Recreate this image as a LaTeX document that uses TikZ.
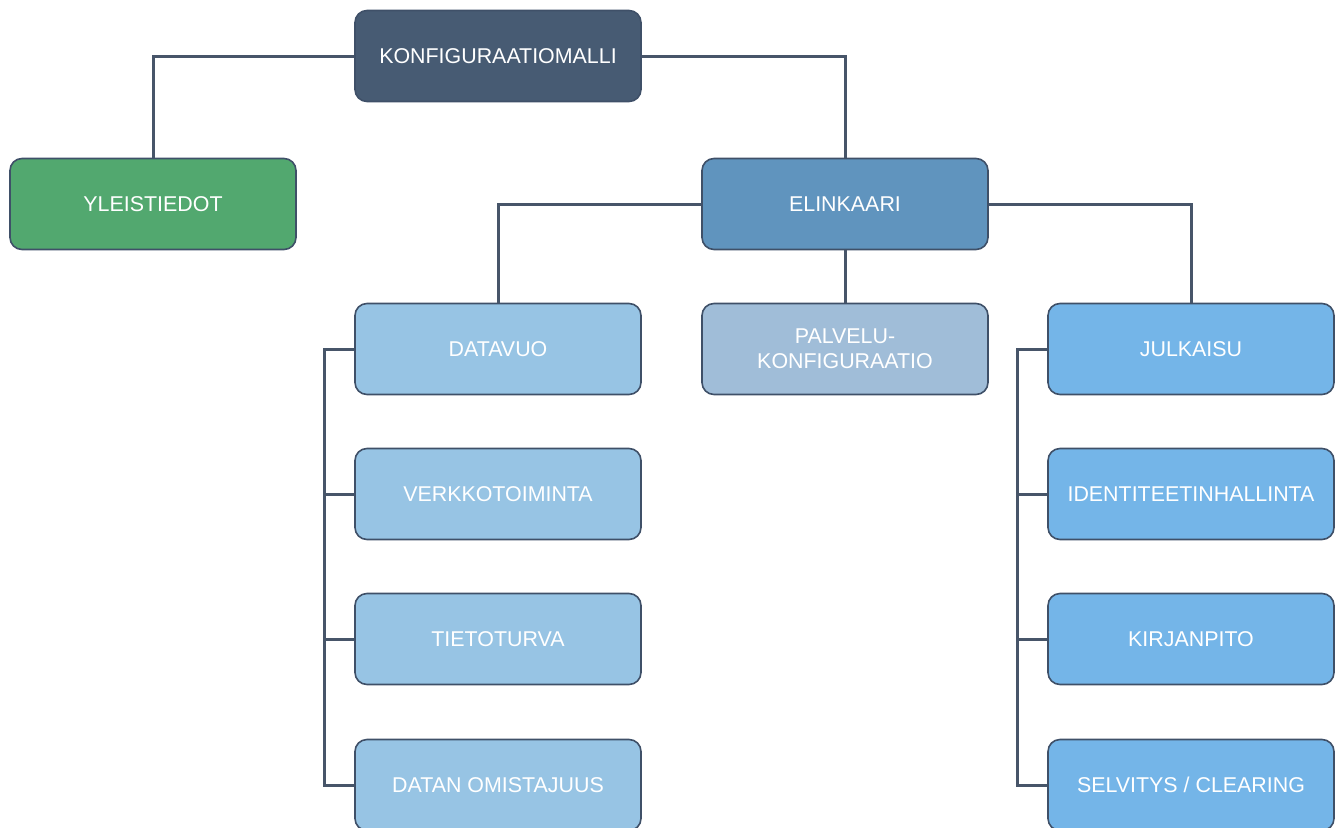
\documentclass[tikz,border=0pt]{standalone}
\usepackage{fontspec}
\setmainfont{Liberation Sans}
\definecolor{rootfill}{HTML}{475B73}
\definecolor{genfill}{HTML}{52A86F}
\definecolor{lifefill}{HTML}{6094BE}
\definecolor{datafill}{HTML}{97C4E4}
\definecolor{svcfill}{HTML}{A0BDD8}
\definecolor{pubfill}{HTML}{74B5E8}
\definecolor{edge}{HTML}{3F5068}
\definecolor{wire}{HTML}{475569}
\tikzset{
  box/.style={draw=edge, line width=1.6pt, rounded corners=12pt,
    minimum width=286pt, minimum height=91pt, inner sep=0pt,
    text=white, font=\fontsize{21.4}{25}\selectfont, align=center},
  wire/.style={draw=wire, line width=3pt}
}
\begin{document}
\begin{tikzpicture}[x=1pt,y=-1pt]
\useasboundingbox (0,0) rectangle (1338,827);
% hierarchy boxes
\node[box, fill=rootfill] (root) at (498,56) {KONFIGURAATIOMALLI};
\node[box, fill=genfill]  (gen)  at (153,204) {YLEISTIEDOT};
\node[box, fill=lifefill] (life) at (845,204) {ELINKAARI};
\node[box, fill=datafill] (flow) at (498,349) {DATAVUO};
\node[box, fill=svcfill]  (svc)  at (845,349) {PALVELU-\\KONFIGURAATIO};
\node[box, fill=pubfill]  (pub)  at (1191,349) {JULKAISU};
\node[box, fill=datafill] (net)  at (498,494) {VERKKOTOIMINTA};
\node[box, fill=datafill] (sec)  at (498,639) {TIETOTURVA};
\node[box, fill=datafill] (own)  at (498,785) {DATAN OMISTAJUUS};
\node[box, fill=pubfill]  (idm)  at (1191,494) {IDENTITEETINHALLINTA};
\node[box, fill=pubfill]  (acc)  at (1191,639) {KIRJANPITO};
\node[box, fill=pubfill]  (clr)  at (1191,785) {SELVITYS / CLEARING};
% connectors
\draw[wire] (root.west) -| (gen.north);
\draw[wire] (root.east) -| (life.north);
\draw[wire] (life.west) -| (flow.north);
\draw[wire] (life.south) -- (svc.north);
\draw[wire] (life.east) -| (pub.north);
\draw[wire] (flow.west) -- ++(-30,0) |- (own.west);
\draw[wire] (net.west) -- ++(-30,0);
\draw[wire] (sec.west) -- ++(-30,0);
\draw[wire] (pub.west) -- ++(-30,0) |- (clr.west);
\draw[wire] (idm.west) -- ++(-30,0);
\draw[wire] (acc.west) -- ++(-30,0);
\end{tikzpicture}
\end{document}
